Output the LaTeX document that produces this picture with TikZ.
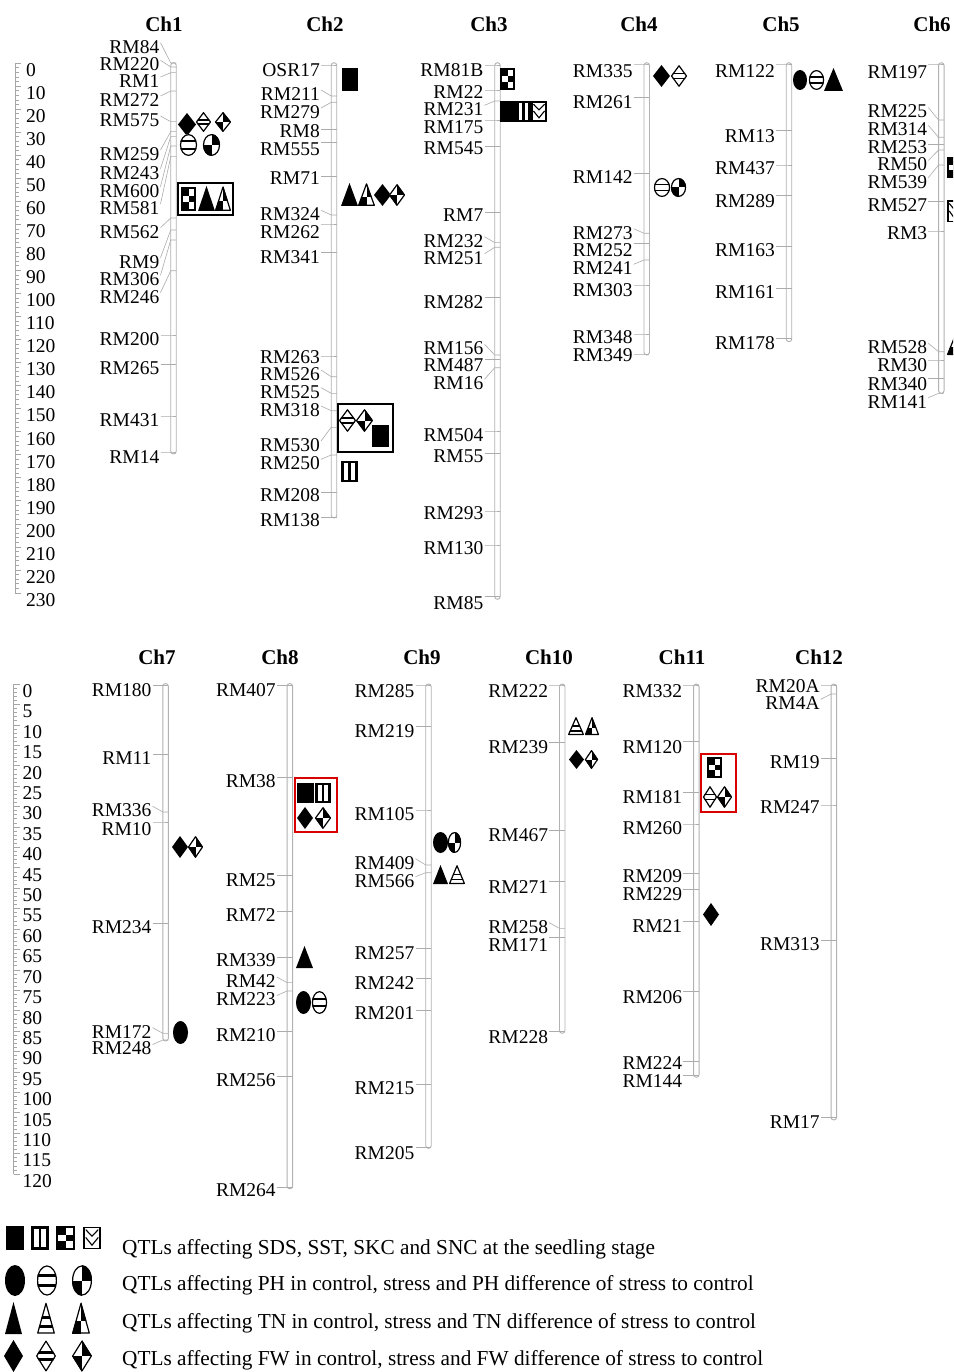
\documentclass[tikz,border=0pt]{standalone}
\usepackage{fontspec}
\setmainfont{Liberation Serif}
\tikzset{
 mk/.style={font=\fontsize{19.5}{20}\selectfont, inner sep=0pt, anchor=east},
 conn/.style={draw=gray!65, line width=0.6pt},
 chr/.style={draw=gray!60, fill=white, line width=0.9pt, rounded corners=2.7pt},
 ttl/.style={font=\fontsize{21}{22}\selectfont\bfseries, inner sep=0pt},
 rnum/.style={font=\fontsize{19.5}{20}\selectfont, inner sep=0pt, anchor=west},
 ruler/.style={draw=gray!70, line width=0.6pt},
 ol/.style={draw=black, line width=1.2pt, line join=round},
 qbox/.style={draw=black, line width=1.4pt},
 rbox/.style={draw=red!85!black, line width=1.4pt},
 leg/.style={font=\fontsize{21.3}{22}\selectfont, inner sep=0pt, anchor=base west},
}
% symbols in unit box [-1,1]^2, y downward
\newcommand\symSDS{\fill (-1,-1) rectangle (1,1);}
\newcommand\symSST{\fill (-1,-1) rectangle (1,1); \fill[white] (-0.62,-0.78) rectangle (-0.16,0.78); \fill[white] (0.16,-0.78) rectangle (0.62,0.78);}
\newcommand\symSKC{\fill (-1,-1) rectangle (1,1); \fill[white] (0,-0.8) rectangle (0.78,-0.27); \fill[white] (-0.78,-0.27) rectangle (0,0.27); \fill[white] (0,0.27) rectangle (0.78,0.8);}
\newcommand\symSNC{\fill[white] (-1,-1) rectangle (1,1); \draw[line width=1.3pt] (-0.88,-0.9) rectangle (0.88,0.9); \draw[line width=1.1pt] (-0.7,-0.7) -- (0,-0.15) -- (0.7,-0.7) (-0.7,-0.05) -- (0,0.6) -- (0.7,-0.05);}
\newcommand\symPH{\fill (0,0) circle (1);}
\newcommand\symPHs{\fill[white] (0,0) circle (1); \begin{scope}\clip (0,0) circle (1); \fill (-1,-0.42) rectangle (1,-0.24); \fill (-1,0.24) rectangle (1,0.42);\end{scope} \draw[ol] (0,0) circle (0.94);}
\newcommand\symPHd{\fill[white] (0,0) circle (1); \begin{scope}\clip (0,0) circle (1); \fill (0,-1) rectangle (1,0); \fill (-1,0) rectangle (0,1);\end{scope} \draw[ol] (0,0) circle (0.94);}
\newcommand\symTN{\fill (0,-1) -- (1,1) -- (-1,1) -- cycle;}
\newcommand\symTNs{\fill[white] (0,-1) -- (1,1) -- (-1,1) -- cycle; \begin{scope}\clip (0,-1) -- (1,1) -- (-1,1) -- cycle; \fill (-1,-0.1) rectangle (1,0.08); \fill (-1,0.45) rectangle (1,0.63);\end{scope} \draw[ol] (0,-0.92) -- (0.92,0.94) -- (-0.92,0.94) -- cycle;}
\newcommand\symTNd{\fill[white] (0,-1) -- (1,1) -- (-1,1) -- cycle; \begin{scope}\clip (0,-1) -- (1,1) -- (-1,1) -- cycle; \fill (0,-1) rectangle (1,0.2); \fill (-1,0.2) rectangle (0,1);\end{scope} \draw[ol] (0,-0.92) -- (0.92,0.94) -- (-0.92,0.94) -- cycle;}
\newcommand\symFW{\fill (0,-1) -- (1,0) -- (0,1) -- (-1,0) -- cycle;}
\newcommand\symFWs{\fill[white] (0,-1) -- (1,0) -- (0,1) -- (-1,0) -- cycle; \begin{scope}\clip (0,-1) -- (1,0) -- (0,1) -- (-1,0) -- cycle; \fill (-1,-0.3) rectangle (1,-0.14); \fill (-1,0.14) rectangle (1,0.3);\end{scope} \draw[ol] (0,-0.93) -- (0.93,0) -- (0,0.93) -- (-0.93,0) -- cycle;}
\newcommand\symFWd{\fill[white] (0,-1) -- (1,0) -- (0,1) -- (-1,0) -- cycle; \begin{scope}\clip (0,-1) -- (1,0) -- (0,1) -- (-1,0) -- cycle; \fill (0,-1) rectangle (1,0); \fill (-1,0) rectangle (0,1);\end{scope} \draw[ol] (0,-0.93) -- (0.93,0) -- (0,0.93) -- (-0.93,0) -- cycle;}
% \qs{type}{x1}{y1}{x2}{y2}
\newcommand\qs[5]{%
 \pgfmathsetmacro\qcx{(#2+#4)/2}\pgfmathsetmacro\qcy{(#3+#5)/2}%
 \pgfmathsetmacro\qa{(#4-#2)/2}\pgfmathsetmacro\qb{(#5-#3)/2}%
 \begin{scope}[shift={(\qcx,\qcy)},xscale=\qa,yscale=\qb]\csname sym#1\endcsname\end{scope}}
% \chrom{id}{barx}{top}{bottom}{list name/labely/ticky}
\newcommand\chrom[5]{%
 \pgfmathsetmacro\bl{#2-2.75}\pgfmathsetmacro\br{#2+2.75}\pgfmathsetmacro\xl{#2-14}%
 \draw[chr] (\bl,#3) rectangle (\br,#4);
 \foreach \n/\ly/\ty in {#5}{%
  \pgfmathsetmacro\dy{abs(\ly-4-\ty)<4 ? \ty-\ly : -4}%
  \node[mk] (#1-\n) at (\xl,\ly) {\n};
  \coordinate (#1-\n-t) at (\bl,\ty);
  \draw[conn] (#1-\n.east) ++(1,\dy) -- (#1-\n-t) -- ++(5.5,0);
 }}
\begin{document}
\begin{tikzpicture}[x=1pt,y=-1pt]
\useasboundingbox (0,0) rectangle (953,1372);
\fill[white] (0,0) rectangle (953,1372);
\clip (0,0) rectangle (953,1372);
% ---------- top ruler
\draw[ruler] (15,63) -- (15,593);
\foreach \c in {0,2,...,230}{\pgfmathsetmacro\yy{63+2.304*\c}\draw[ruler] (15,\yy) -- (18.5,\yy);}
\foreach \c in {0,10,...,230}{\pgfmathsetmacro\yy{63+2.304*\c}\draw[ruler] (15,\yy) -- (21,\yy);
 \node[rnum] (rt\c) at (26,\yy+7) {\c};}
% ---------- bottom ruler
\draw[ruler] (13.5,684) -- (13.5,1174);
\foreach \c in {0,...,120}{\pgfmathsetmacro\yy{684+4.083*\c}\draw[ruler] (13.5,\yy) -- (16.5,\yy);}
\foreach \c in {0,5,...,120}{\pgfmathsetmacro\yy{684+4.083*\c}\draw[ruler] (13.5,\yy) -- (19.5,\yy);
 \node[rnum] (rb\c) at (22.5,\yy+7) {\c};}
% ---------- titles
\node[ttl] (T1) at (164,24) {Ch1};
\node[ttl] (T2) at (325,24) {Ch2};
\node[ttl] (T3) at (489,24) {Ch3};
\node[ttl] (T4) at (639,24) {Ch4};
\node[ttl] (T5) at (781,24) {Ch5};
\node[ttl] (T6) at (932,24) {Ch6};
\node[ttl] (T7) at (157,657) {Ch7};
\node[ttl] (T8) at (280,657) {Ch8};
\node[ttl] (T9) at (422,657) {Ch9};
\node[ttl] (T10) at (549,657) {Ch10};
\node[ttl] (T11) at (682,657) {Ch11};
\node[ttl] (T12) at (819,657) {Ch12};
% ---------- chromosomes
\chrom{c1}{173.5}{62.7}{454}{RM84/46.7/63, RM220/64.3/67, RM1/81/72.7, RM272/100/91, RM575/120/121.7, RM259/154/131.7, RM243/172.7/136.7, RM600/190.7/146, RM581/208/156.7, RM562/231.7/218, RM9/261.7/230, RM306/279.3/240, RM246/296.7/270.7, RM200/339/335, RM265/368/364.3, RM431/420/416, RM14/456.7/452}
\chrom{c2}{334}{62.7}{518}{OSR17/70/65, RM211/94/96, RM279/112/102.3, RM8/131/129.3, RM555/149/142.7, RM71/177.7/176.7, RM324/214.3/215, RM262/231.7/224, RM341/257.3/252.7, RM263/356.7/356, RM526/374/376.7, RM525/391.7/393.3, RM318/410/410.7, RM530/445/427.3, RM250/463.3/455, RM208/495/492.3, RM138/520/517.3}
\chrom{c3}{497.5}{62.7}{599.3}{RM81B/70/65, RM22/91.7/90, RM231/109.3/101, RM175/126.7/120, RM545/148.3/146.7, RM7/215/212.7, RM232/240.7/242.7, RM251/257.7/247.3, RM282/301.7/297.3, RM156/348.3/355, RM487/365/359.3, RM16/383.3/367.7, RM504/435/431, RM55/456.7/453.3, RM293/512.7/511, RM130/548.3/545, RM85/602.7/596.7}
\chrom{c4}{646.7}{62.7}{355}{RM335/70.7/64, RM261/101.7/97.3, RM142/176.7/173.3, RM273/232.7/233.3, RM252/250/243.3, RM241/268.3/260, RM303/290/285, RM348/336.7/334, RM349/355/354}
\chrom{c5}{789}{62.7}{341.7}{RM122/70.7/64, RM13/136/130.7, RM437/168.3/165, RM289/200.7/195.7, RM163/250/246.7, RM161/291.7/288.3, RM178/343.3/338.3}
\chrom{c6}{941.3}{62.7}{393.3}{RM197/71.7/64, RM225/111.5/120, RM314/129.3/137.3, RM253/146.7/144.3, RM50/164.5/150, RM539/181.7/165, RM527/205/201.7, RM3/232.7/231, RM528/347.3/351.7, RM30/365/360, RM340/384/378.3, RM141/401.7/393.3}
\chrom{c7}{165.6}{683.5}{1041}{RM180/690.3/685.2, RM11/758.5/754.5, RM336/810.2/812, RM10/828.8/822, RM234/927.5/922.8, RM172/1031.6/1033.3, RM248/1048.5/1040}
\chrom{c8}{289.8}{683.5}{1188.8}{RM407/690.3/685.2, RM38/780.8/777.5, RM25/880.2/875.5, RM72/915/911.6, RM339/960.6/957.3, RM42/981/982.6, RM223/999.5/991, RM210/1035/1031, RM256/1080.6/1076.5, RM264/1190.5/1187.7}
\chrom{c9}{428.5}{684}{1148.3}{RM285/690.7/685, RM219/730.7/726.7, RM105/814/810, RM409/862.7/865, RM566/880.7/872.7, RM257/952.7/948.3, RM242/982.7/978.3, RM201/1013.3/1010, RM215/1088.3/1084, RM205/1153/1147.3}
\chrom{c10}{562.2}{684}{1033.3}{RM222/690.7/685, RM239/747.3/742.7, RM467/835/830.7, RM271/886.7/881.7, RM258/926.7/928.3, RM171/945/937.3, RM228/1036.7/1031.7}
\chrom{c11}{696.3}{684}{1077.3}{RM332/690.7/685, RM120/747.3/741.7, RM181/796.7/792.7, RM260/828.3/824, RM209/876.5/873.3, RM229/894.5/889.3, RM21/926/921.7, RM206/996.7/991.7, RM224/1063.3/1061.7, RM144/1080.7/1075}
\chrom{c12}{833.8}{684}{1120}{RM20A/686/685, RM4A/703.3/694, RM19/761.7/758.3, RM247/806.7/805, RM313/944/940, RM17/1121.7/1117.3}
% ---------- QTL symbols
% Ch1
\qs{FW}{178}{113}{196}{136}
\qs{FWs}{196}{112}{211}{132}
\qs{FWd}{215}{112}{231}{132}
\qs{PHs}{180}{134}{197}{156}
\qs{PHd}{203}{134}{220}{156}
\draw[qbox] (178,183) rectangle (233,215);
\qs{SKC}{181}{187}{196}{211}
\qs{TN}{198}{186}{215}{211}
\qs{TNd}{215}{186}{231}{211}
% Ch2
\qs{SDS}{342}{68}{358}{91}
\qs{TN}{341}{183}{358}{206}
\qs{TNd}{358}{183}{375}{206}
\qs{FW}{374}{184}{391}{206}
\qs{FWd}{389}{184}{405}{206}
\draw[qbox] (338,404) rectangle (393,452);
\qs{FWs}{339}{409}{356}{432}
\qs{FWd}{356}{409}{373}{432}
\qs{SDS}{372}{425}{389}{447}
\qs{SST}{341}{461}{358}{482}
% Ch3
\qs{SKC}{500}{68}{515}{90}
\qs{SDS}{500}{101}{516}{122}
\qs{SST}{516}{101}{531}{122}
\qs{SNC}{531}{101}{547}{122}
% Ch4
\qs{FW}{653}{65}{670}{87}
\qs{FWs}{671}{65}{687}{87}
\qs{PHs}{654}{178}{670}{197}
\qs{PHd}{671}{178}{686}{197}
% Ch5
\qs{PH}{793}{70}{807}{90}
\qs{PHs}{809}{70}{824}{90}
\qs{TN}{824}{68}{843}{91}
% Ch6
\qs{SKC}{947}{157}{962}{178}
\qs{SNC}{947}{200}{962}{223}
\qs{TNd}{947}{335}{963}{355}
% Ch7
\qs{FW}{172}{836}{188}{858}
\qs{FWd}{188}{836}{203}{858}
\qs{PH}{173}{1021}{188}{1044}
% Ch8
\draw[rbox] (295,778) rectangle (337,832);
\qs{SDS}{297}{783}{314}{803}
\qs{SST}{315}{783}{331}{803}
\qs{FW}{297}{807}{313}{829}
\qs{FWd}{315}{807}{331}{829}
\qs{TN}{296}{946}{313}{968}
\qs{PH}{296}{991}{311}{1014}
\qs{PHs}{312}{991}{327}{1014}
% Ch9
\qs{PH}{433}{832}{448}{853}
\qs{PHd}{448}{832}{461}{853}
\qs{TN}{433}{865}{448}{884}
\qs{TNs}{449}{865}{465}{884}
% Ch10
\qs{TNs}{568}{717}{584}{735}
\qs{TNd}{585}{717}{599}{735}
\qs{FW}{569}{750}{584}{769}
\qs{FWd}{585}{750}{598}{769}
% Ch11
\draw[rbox] (701,754) rectangle (736,812);
\qs{SKC}{707}{757}{722}{778}
\qs{FWs}{703}{786}{717}{808}
\qs{FWd}{717}{786}{732}{808}
\qs{FW}{703}{903}{719}{926}
% ---------- legend
\qs{SDS}{6}{1226}{24}{1250}
\qs{SST}{31}{1226}{49}{1250}
\qs{SKC}{56}{1226}{75}{1250}
\qs{SNC}{83}{1226}{101}{1250}
\qs{PH}{5}{1265}{25}{1296}
\qs{PHs}{37}{1265}{57}{1296}
\qs{PHd}{72}{1265}{92}{1296}
\qs{TN}{5}{1302}{22}{1334}
\qs{TNs}{37}{1302}{55}{1334}
\qs{TNd}{72}{1302}{90}{1334}
\qs{FW}{4}{1340}{23}{1372}
\qs{FWs}{36}{1340}{56}{1372}
\qs{FWd}{72}{1340}{92}{1372}
\node[leg] (L1) at (122,1254) {QTLs affecting SDS, SST, SKC and SNC at the seedling stage};
\node[leg] (L2) at (122,1290) {QTLs affecting PH in control, stress and PH difference of stress to control};
\node[leg] (L3) at (122,1328) {QTLs affecting TN in control, stress and TN difference of stress to control};
\node[leg] (L4) at (122,1365) {QTLs affecting FW in control, stress and FW difference of stress to control};
\end{tikzpicture}
\end{document}
